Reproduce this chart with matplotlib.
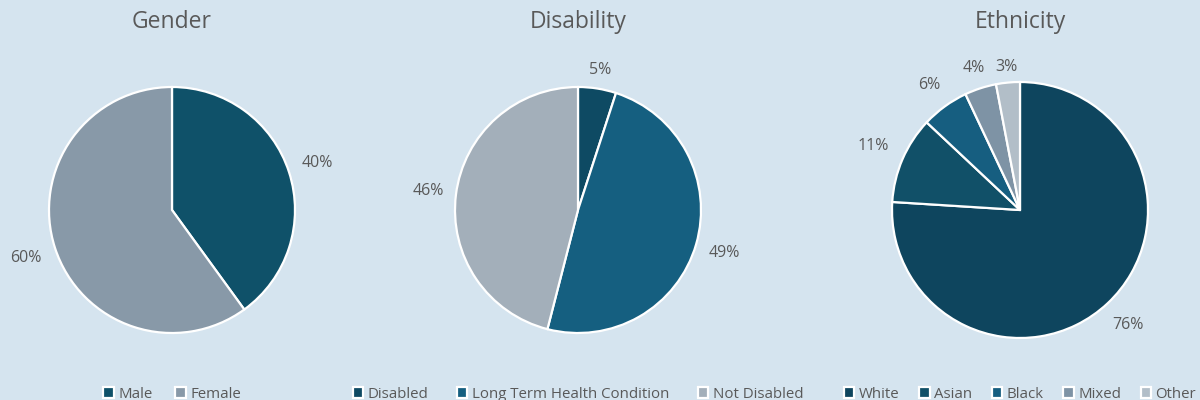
import matplotlib
matplotlib.use("Agg")
import matplotlib.pyplot as plt
import numpy as np

plt.rcParams['font.family'] = ['Open Sans', 'DejaVu Sans']

bg = '#D5E4EF'
text_col = '#595959'

gender_labels = ['Male', 'Female']
gender_values = [40, 60]
gender_colors = ['#0F5169', '#8899A8']

disab_labels = ['Disabled', 'Long Term Health Condition', 'Not Disabled']
disab_values = [5, 49, 46]
disab_colors = ['#0E4A63', '#155F80', '#A3AFBA']

eth_labels = ['White', 'Asian', 'Black', 'Mixed', 'Other']
eth_values = [76, 11, 6, 4, 3]
eth_colors = ['#0E455E', '#115068', '#165E80', '#7E93A5', '#B2BEC8']

# how far out each percentage label sits (in pie radii)
gender_ldist = [1.24, 1.25]
disab_ldist = [1.15, 1.24, 1.23]
eth_ldist = [1.23, 1.25, 1.21, 1.17, 1.12]

charts = [
    ('Gender', gender_labels, gender_values, gender_colors, gender_ldist, 172, 123, 1.5),
    ('Disability', disab_labels, disab_values, disab_colors, disab_ldist, 578, 123, 1.9),
    ('Ethnicity', eth_labels, eth_values, eth_colors, eth_ldist, 1020, 128, 1.3),
]

W, H = 1200, 400
fig = plt.figure(figsize=(12, 4), dpi=100, facecolor=bg)
cy = 210

for title, labels, values, colors, ldist, cx, r, colsp in charts:
    ax = fig.add_axes([(cx - r) / W, (H - cy - r) / H, 2 * r / W, 2 * r / H])
    ax.set_facecolor(bg)
    wedges, texts, autotexts = ax.pie(
        values, colors=colors, startangle=90, counterclock=False,
        autopct='%d%%', pctdistance=1.23, radius=1,
        wedgeprops=dict(edgecolor='white', linewidth=1.6),
        textprops=dict(color=text_col, fontsize=11.5))
    for w, t, d in zip(wedges, autotexts, ldist):
        w.set_clip_on(False)
        t.set_clip_on(False)
        ang = np.deg2rad((w.theta1 + w.theta2) / 2)
        t.set_position((d * np.cos(ang), d * np.sin(ang)))
    ax.set_xlim(-1, 1)
    ax.set_ylim(-1, 1)
    ax.axis('off')
    fig.text(cx / W, 1 - 22 / H, title, ha='center', va='center',
             fontsize=16.5, color=text_col)
    fig.legend(wedges, labels, loc='center',
               bbox_to_anchor=(cx / W, 6 / H), ncol=len(labels),
               frameon=False, fontsize=10.8, labelcolor=text_col,
               handlelength=0.7, handleheight=0.7, handletextpad=0.3,
               columnspacing=colsp)

fig.savefig('out.png', dpi=100, facecolor=bg)
